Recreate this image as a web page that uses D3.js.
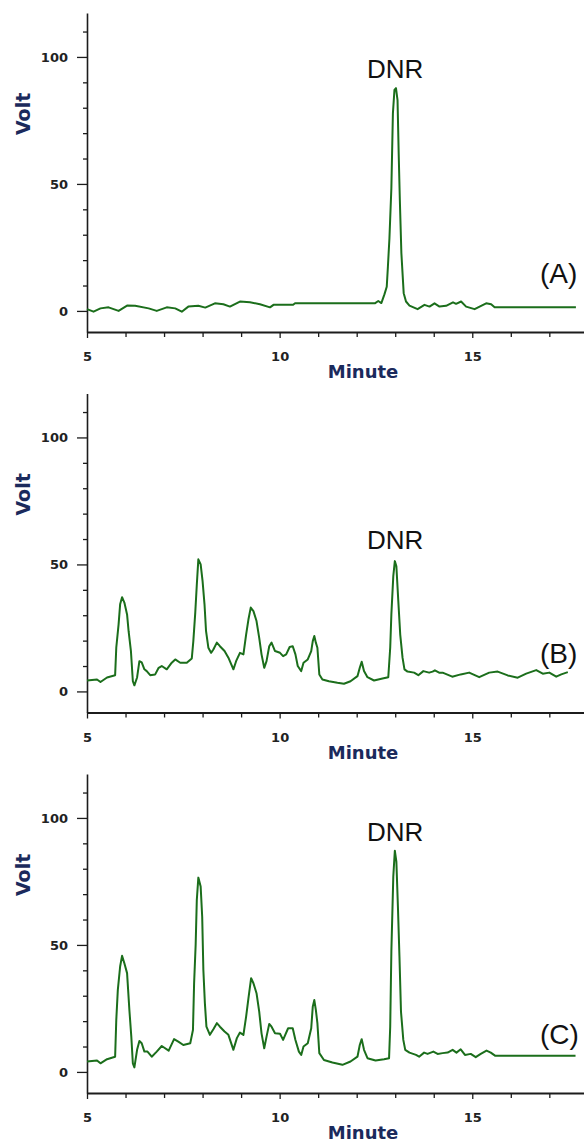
<!DOCTYPE html>
<html>
<head>
<meta charset="utf-8">
<script src="https://cdn.jsdelivr.net/npm/d3@7/dist/d3.min.js"></script>
<style>
  html, body { margin: 0; padding: 0; background: #fff; }
  svg { display: block; }
  .tick text { font-family: "DejaVu Sans", sans-serif; font-size: 13px; font-weight: bold; fill: #222; }
</style>
</head>
<body>
<svg id="chart" width="584" height="1142"></svg>
<script>
// chromatogram traces: [minute, volt]
var traceA = [[5.0,0.7],[5.17,-0.3],[5.35,1.0],[5.56,1.4],[5.82,0],[6.04,2.1],[6.25,2.0],[6.6,1.0],[6.81,0],[7.07,1.4],[7.29,1.0],[7.46,-0.3],[7.63,1.7],[7.89,2.0],[8.07,1.3],[8.32,3.0],[8.54,2.6],[8.71,1.7],[8.97,3.7],[9.23,3.4],[9.49,2.6],[9.75,1.4],[9.84,2.4],[10.35,2.4],[10.4,3.0],[12.47,3.0],[12.56,3.9],[12.64,3.1],[12.72,6.5],[12.78,9.5],[12.81,17.4],[12.85,28.6],[12.9,48.3],[12.94,77.8],[12.98,87],[13.02,87.7],[13.06,83],[13.09,62],[13.12,43.7],[13.16,22.7],[13.22,7],[13.28,3.7],[13.37,2.1],[13.58,0.7],[13.76,2.4],[13.89,1.7],[14.02,3.0],[14.15,1.7],[14.32,2.0],[14.5,3.4],[14.58,2.8],[14.71,3.7],[14.84,1.7],[15.06,0.7],[15.19,1.7],[15.36,3.0],[15.49,2.6],[15.58,1.4],[17.69,1.4]];

var traceB = [[5.0,4.3],[5.26,4.7],[5.35,3.7],[5.52,5.5],[5.73,6.4],[5.76,17.3],[5.82,26.4],[5.86,34.3],[5.91,37.1],[5.97,35],[6.04,30.3],[6.08,23.7],[6.14,15.9],[6.19,4],[6.23,2.4],[6.3,5.5],[6.36,11.9],[6.42,11.4],[6.49,8.7],[6.55,8],[6.64,6.4],[6.77,6.7],[6.86,9.3],[6.94,10],[7.07,8.7],[7.2,11.3],[7.29,12.6],[7.42,11.3],[7.59,11.3],[7.72,13],[7.76,19.8],[7.81,31],[7.85,42],[7.89,52],[7.95,50],[8.0,43.4],[8.05,34.3],[8.09,23.7],[8.15,17.2],[8.22,15.2],[8.28,16.5],[8.37,19.2],[8.45,17.8],[8.57,15.9],[8.67,13.3],[8.8,8.7],[8.87,11.9],[8.97,15.2],[9.06,14.6],[9.13,22.4],[9.19,28.3],[9.25,33],[9.32,31.6],[9.4,27.7],[9.47,21.1],[9.53,14.6],[9.6,9.3],[9.66,11.9],[9.73,17.8],[9.79,19.2],[9.88,15.9],[10.01,15.2],[10.09,13.9],[10.17,14.6],[10.26,17.5],[10.34,17.8],[10.41,14.6],[10.47,10],[10.56,8],[10.62,11.3],[10.73,12.6],[10.82,15.9],[10.86,19.8],[10.9,21.8],[10.94,19.2],[10.98,17.2],[11.03,6.7],[11.11,4.7],[11.28,4],[11.5,3.4],[11.67,3],[11.84,4],[12.02,6],[12.08,9.3],[12.13,11.7],[12.19,8],[12.28,5.6],[12.45,4.3],[12.67,5.1],[12.82,5.6],[12.87,17.2],[12.9,30.3],[12.95,45.4],[12.99,51.3],[13.03,49.3],[13.08,35.6],[13.13,22.4],[13.19,13.3],[13.24,8.7],[13.32,7.8],[13.49,7.4],[13.6,6.4],[13.73,8],[13.88,7.4],[13.97,7.8],[14.03,8.3],[14.14,7.4],[14.23,7.4],[14.48,5.8],[14.7,6.7],[14.92,7.4],[15.18,5.6],[15.44,7.4],[15.66,7.8],[15.92,6.3],[16.18,5.4],[16.4,7],[16.66,8.4],[16.83,7],[17.0,7.4],[17.18,5.8],[17.31,6.7],[17.48,7.6]];

var traceC = [[5.0,4.1],[5.26,4.5],[5.35,3.4],[5.52,5],[5.73,6],[5.76,20.5],[5.8,32.3],[5.86,41.5],[5.91,45.7],[5.97,42.8],[6.04,38.9],[6.1,24.4],[6.15,13.9],[6.19,3.4],[6.23,1.8],[6.3,8.7],[6.36,12.2],[6.42,11.3],[6.49,8],[6.57,8],[6.68,6],[6.81,8],[6.94,10.2],[7.12,8.4],[7.26,12.9],[7.37,11.9],[7.5,10.6],[7.68,11.3],[7.75,16.5],[7.78,34.9],[7.82,50],[7.85,67.7],[7.89,76.5],[7.95,73],[7.99,61.1],[8.02,40.2],[8.06,27],[8.1,17.8],[8.19,14.6],[8.28,16.8],[8.37,19.2],[8.45,17.8],[8.57,15.9],[8.67,14.6],[8.8,8.7],[8.89,13.3],[8.97,15.5],[9.06,14.6],[9.13,21.8],[9.19,29],[9.26,36.9],[9.32,34.9],[9.4,31],[9.47,23.7],[9.53,15.2],[9.6,9.3],[9.66,13.9],[9.73,18.9],[9.79,17.8],[9.88,15.2],[10.01,15],[10.09,12.6],[10.22,17.2],[10.34,17.2],[10.41,12.6],[10.5,8],[10.56,6.7],[10.62,10],[10.73,11.3],[10.82,17.2],[10.86,25.7],[10.9,28.3],[10.94,24.4],[10.98,19.2],[11.03,7.4],[11.15,4.7],[11.37,3.7],[11.63,2.8],[11.84,4.1],[12.02,6],[12.08,10.6],[12.13,12.9],[12.19,8.7],[12.28,5.4],[12.49,4.5],[12.71,5],[12.84,5.4],[12.87,17.8],[12.9,47.4],[12.95,76.9],[12.99,87.1],[13.03,82.8],[13.07,65.1],[13.11,45.4],[13.15,23.7],[13.21,12.6],[13.26,8.7],[13.37,7.6],[13.54,6.7],[13.62,6],[13.75,7.6],[13.84,7.1],[13.99,8],[14.1,7.1],[14.23,7.4],[14.36,7.6],[14.49,8.7],[14.59,7.6],[14.7,8.9],[14.81,6.7],[14.96,7.1],[15.09,5.8],[15.22,7.1],[15.37,8.4],[15.48,7.6],[15.59,6.4],[17.68,6.4]];

var panelTraces = [traceA, traceB, traceC];
var panelLabels = ["(A)", "(B)", "(C)"];
var peakLabel = "DNR";
var peakMinute = 13.0;

var xDomain = [5, 17.9];
var yDomain = [-8.3, 117.3];
var xMajorTicks = [5, 10, 15];
var xMinorTicks = [6, 7, 8, 9, 11, 12, 13, 14, 16, 17];
var yMajorTicks = [0, 50, 100];
var yMinorTicks = [10, 20, 30, 40, 60, 70, 80, 90, 110];

(function () {
  "use strict";

  var svg = d3.select("#chart");
  var left = 87, right = 584;
  var panelTop = 13, panelHeight = 319, panelStep = 380.5;
  var lineColor = "#1b6e1b";
  var axisColor = "#1c1c1c";
  var textColor = "#1b2a5c";

  var x = d3.scaleLinear().domain(xDomain).range([left, right]);

  panelTraces.forEach(function (trace, i) {
    var top = panelTop + i * panelStep;
    var y = d3.scaleLinear().domain(yDomain).range([top + panelHeight, top]);
    var g = svg.append("g").attr("class", "panel");

    // minor ticks first, then the labelled axes on top
    g.append("g")
      .attr("transform", "translate(" + left + ",0)")
      .call(d3.axisLeft(y).tickValues(yMinorTicks).tickSize(4).tickSizeOuter(0).tickFormat(""))
      .call(function (a) { a.select(".domain").remove(); });
    g.append("g")
      .attr("transform", "translate(0," + y(yDomain[0]) + ")")
      .call(d3.axisBottom(x).tickValues(xMinorTicks).tickSize(5).tickSizeOuter(0).tickFormat(""))
      .call(function (a) { a.select(".domain").remove(); });

    var yAxis = g.append("g")
      .attr("transform", "translate(" + left + ",0)")
      .call(d3.axisLeft(y).tickValues(yMajorTicks).tickSize(10).tickSizeOuter(0).tickPadding(9));
    yAxis.select(".domain").attr("stroke-width", 1.6);

    var xAxis = g.append("g")
      .attr("transform", "translate(0," + y(yDomain[0]) + ")")
      .call(d3.axisBottom(x).tickValues(xMajorTicks).tickSize(6).tickSizeOuter(0).tickPadding(14));
    xAxis.select(".domain").attr("stroke-width", 2.2);

    g.selectAll(".tick line, .domain").attr("stroke", axisColor);
    g.selectAll(".tick line").attr("stroke-width", 1.3);

    g.append("path")
      .datum(trace)
      .attr("fill", "none")
      .attr("stroke", lineColor)
      .attr("stroke-width", 2)
      .attr("stroke-linejoin", "round")
      .attr("d", d3.line()
        .x(function (d) { return x(d[0]); })
        .y(function (d) { return y(d[1]); }));

    var peak = d3.max(trace, function (d) { return d[1]; });
    g.append("text")
      .attr("x", x(peakMinute))
      .attr("y", y(peak) - 10)
      .attr("text-anchor", "middle")
      .attr("font-family", "Liberation Sans, Arial, sans-serif")
      .attr("font-size", 26)
      .attr("fill", "#111")
      .text(peakLabel);

    g.append("text")
      .attr("x", 540)
      .attr("y", y(0) - 28)
      .attr("font-family", "Liberation Sans, Arial, sans-serif")
      .attr("font-size", 28)
      .attr("fill", "#111")
      .text(panelLabels[i]);

    g.append("text")
      .attr("transform", "translate(30," + (y(0) - 197) + ") rotate(-90)")
      .attr("text-anchor", "middle")
      .attr("font-family", "DejaVu Sans, sans-serif")
      .attr("font-weight", "bold")
      .attr("font-size", 19)
      .attr("fill", textColor)
      .text("Volt");

    g.append("text")
      .attr("x", 363)
      .attr("y", y(yDomain[0]) + 46)
      .attr("text-anchor", "middle")
      .attr("font-family", "DejaVu Sans, sans-serif")
      .attr("font-weight", "bold")
      .attr("font-size", 18)
      .attr("fill", textColor)
      .text("Minute");
  });
})();
</script>
</body>
</html>
